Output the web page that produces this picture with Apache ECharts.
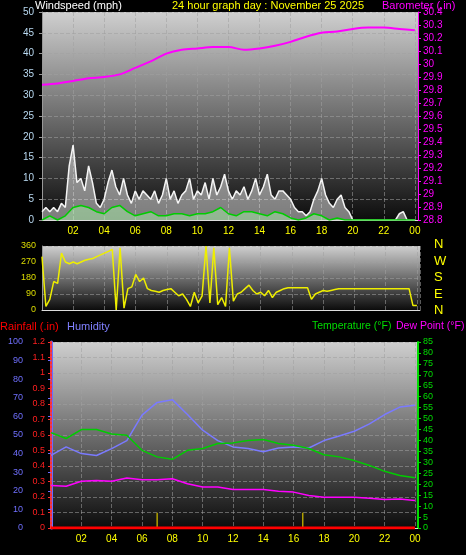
<!DOCTYPE html>
<html>
<head>
<meta charset="utf-8">
<script src="https://cdn.jsdelivr.net/npm/echarts@6/dist/echarts.min.js"></script>
<style>
  html, body { margin: 0; padding: 0; background: #000; }
  #main { width: 466px; height: 555px; }
</style>
</head>
<body>
<div id="main"></div>
<script>
// hourly readings, one value per step starting at hour 0
const gustStep = 0.25;
const windGust = [2,3,2,3, 2,4,3,13, 18,9,10,7, 13,9,4,3, 5,9,12,8, 6,10,6,4, 7,5,7,6, 5,7,4,6,
  10,5,7,4, 6,7,10,5, 7,6,9,5, 10,6,8,11, 7,5,7,6, 8,5,7,10, 6,8,11,6, 5,7,7,6, 5,3,2,2,
  1,2,5,7, 10,6,4,3, 5,6,3,2, 0,0,0,0, 0,0,0,0, 0,0,0,0, 1.5,2,0,0, 0];
const avgStep = 0.5;
const windAvg = [0,1,0,1, 3,3.5,3,2, 1.5,3,3.5,2, 1,1.5,2,1, 1,1.5,1.5,1, 1.5,1.5,2,3, 1.5,1,2,2,
  1.5,1,2,1.5, 0.5,0,0.5,1.5, 1,0,0.5,0, 0,0,0,0, 0,0,0,0, 0];
const dirStep = 0.25;
const windDir = [300,20,60,160, 150,320,270,260, 270,260,270,280, 285,290,300,310, 320,330,340,0,
  350,10,120,130, 200,160,180,120, 110,105,100,110, 115,120,100,80, 90,60,20,100, 40,80,360,40,
  350,30,70,20, 350,50,90,100, 120,140,110,90, 100,80,110,70, 100,110,120,125, 125,125,125,125,
  125,60,90,100, 110,105,110,115, 120,120,120,120, 120,120,120,120, 120,120,120,120, 120,120,120,120,
  120,120,120,25, 25];
const hourStep = 1;
const barometer = [29.84,29.85,29.87,29.89,29.90,29.92,29.97,30.02,30.08,30.11,30.12,30.13,30.13,
  30.11,30.12,30.14,30.17,30.21,30.24,30.25,30.27,30.28,30.28,30.27,30.26];
const humidity = [39,43.6,40,39,42.7,47,60.7,67.5,69,61,52.6,47,43.6,42.7,41,43,43.6,43,47,49.5,
  52,56,61,65,66];
const temperature = [43.6,40.9,45,45,43,42.4,35.5,32.5,31.4,35.5,36.3,38.6,38.9,40,40.4,38.6,37.8,
  36.3,33.5,32.5,30.8,28.6,25.9,24,23];
const dewPoint = [19.4,19.1,21.4,21.7,21.4,22.8,22,22,22.5,20.2,18.7,18.7,17.6,17.6,17.6,16.8,16.4,
  14.9,14.1,14.1,14.1,13.6,13,13.3,12.6];
const rainfall = [0,0,0,0,0,0,0,0,0,0,0,0,0,0,0,0,0,0,0,0,0,0,0,0,0];
const rainMarks = [[7, 7], [16.6, 7]];
const compass = ['N', 'W', 'S', 'E', 'N'];

const pairs = (arr, step) => arr.map((v, i) => [i * step, v]);
const hourLabel = v => (v === 0 ? '' : String(Math.round(v) % 24).padStart(2, '0'));
const bg = {
    type: 'linear', x: 0, y: 0, x2: 0, y2: 1,
    colorStops: [{ offset: 0, color: '#cfcfcf' }, { offset: 1, color: '#0c0c0c' }]
};
const split = { show: true, lineStyle: { color: 'rgba(160,160,160,0.55)', type: 'dashed', width: 1 } };
const font = 'Liberation Sans';
const head = (text, left, top, color, size) => ({
    text, left, top, padding: 0,
    textStyle: { color, fontSize: size || 11, fontWeight: 'normal', fontFamily: font }
});

const xAxisBase = (gi, showLabel) => ({
    type: 'value', gridIndex: gi, min: 0, max: 24.2, interval: 2,
    axisLine: { lineStyle: { color: '#ddd' } },
    axisTick: { show: false },
    axisLabel: { show: showLabel, color: '#ffff00', fontSize: 10, fontFamily: font, formatter: hourLabel, margin: 6 },
    splitLine: split
});

const chart = echarts.init(document.getElementById('main'));
chart.setOption({
    backgroundColor: '#000',
    animation: false,
    title: [
        head('Windspeed (mph)', 35, 0, '#fff'),
        head('24 hour graph day : November 25 2025', 172, 0, '#ffff00'),
        head('Barometer (.in)', 382, 0, '#ff00ff'),
        head('Rainfall (.in)', 0, 321, '#ff0000'),
        head('Humidity', 67, 321, '#8080ff'),
        head('Temperature (°F)', 312, 321, '#00dd00', 10.5),
        head('Dew Point (°F)', 396, 321, '#ff00ff', 10.5)
    ],
    graphic: compass.map((c, i) => ({
        type: 'text', left: 434, top: 238 + i * 16.5,
        style: { text: c, fill: '#ffff00', fontSize: 13, fontFamily: font }
    })),
    grid: [
        { left: 42, top: 12, width: 376, height: 208, show: true, backgroundColor: bg, borderWidth: 0 },
        { left: 42, top: 246, width: 378, height: 64, show: true, backgroundColor: bg, borderWidth: 0 },
        { left: 51, top: 342, width: 367, height: 186, show: true, backgroundColor: bg, borderWidth: 0 }
    ],
    xAxis: [xAxisBase(0, true), xAxisBase(1, false), xAxisBase(2, true)],
    yAxis: [
        { type: 'value', gridIndex: 0, position: 'left', min: 0, max: 50, interval: 5,
          axisLine: { show: true, lineStyle: { color: '#999' } }, axisTick: { show: true, length: 3 },
          axisLabel: { color: '#b8d8f0', fontSize: 10, fontFamily: font, margin: 8 }, splitLine: split },
        { type: 'value', gridIndex: 0, position: 'right', min: 28.8, max: 30.4, interval: 0.1,
          axisLine: { show: true, lineStyle: { color: '#ff00ff' } }, axisTick: { show: true, length: 3 },
          axisLabel: { color: '#ff00ff', fontSize: 10, fontFamily: font, margin: 5, formatter: v => String(+v.toFixed(1)) },
          splitLine: { show: false } },
        { type: 'value', gridIndex: 1, position: 'left', min: 0, max: 360, interval: 90,
          axisLine: { show: true, lineStyle: { color: '#999' } }, axisTick: { show: false },
          axisLabel: { color: '#dddd00', fontSize: 9, fontFamily: font, margin: 6 }, splitLine: split },
        { type: 'value', gridIndex: 2, position: 'left', min: 0, max: 100, interval: 10, offset: 22,
          axisLine: { show: true, lineStyle: { color: '#6a6aff', width: 3 } }, axisTick: { show: true, length: 3, lineStyle: { color: '#6a6aff' } },
          axisLabel: { color: '#7070ff', fontSize: 9, fontFamily: font, margin: 6 }, splitLine: { show: false } },
        { type: 'value', gridIndex: 2, position: 'left', min: 0, max: 1.2, interval: 0.1,
          axisLine: { show: true, lineStyle: { color: '#ff3030', type: 'dotted', width: 2 } }, axisTick: { show: true, length: 3, lineStyle: { color: '#ff3030' } },
          axisLabel: { color: '#ff2020', fontSize: 9, fontFamily: font, margin: 6, formatter: v => String(+v.toFixed(1)) },
          splitLine: split },
        { type: 'value', gridIndex: 2, position: 'right', min: 0, max: 85, interval: 5,
          axisLine: { show: true, lineStyle: { color: '#00dd00', width: 2 } }, axisTick: { show: true, length: 3, lineStyle: { color: '#00dd00' } },
          axisLabel: { color: '#00dd00', fontSize: 9, fontFamily: font, margin: 5 }, splitLine: { show: false } }
    ],
    series: [
        { name: 'Gust', type: 'line', xAxisIndex: 0, yAxisIndex: 0, data: pairs(windGust, gustStep),
          symbol: 'none', lineStyle: { color: '#f4f4f4', width: 1.5 }, areaStyle: { color: 'rgba(240,240,240,0.7)' } },
        { name: 'Wind', type: 'line', xAxisIndex: 0, yAxisIndex: 0, data: pairs(windAvg, avgStep),
          symbol: 'none', lineStyle: { color: '#00cc00', width: 1.5 }, areaStyle: { color: 'rgba(170,240,170,0.7)' } },
        { name: 'Barometer', type: 'line', xAxisIndex: 0, yAxisIndex: 1, data: pairs(barometer, hourStep),
          symbol: 'none', smooth: 0.3, lineStyle: { color: '#ff00ff', width: 2 } },
        { name: 'Direction', type: 'line', xAxisIndex: 1, yAxisIndex: 2, data: pairs(windDir, dirStep),
          symbol: 'none', lineStyle: { color: '#eeee00', width: 1.5 } },
        { name: 'Humidity', type: 'line', xAxisIndex: 2, yAxisIndex: 3, data: pairs(humidity, hourStep),
          symbol: 'none', lineStyle: { color: '#7a7aff', width: 1.5 } },
        { name: 'Rain', type: 'line', xAxisIndex: 2, yAxisIndex: 4, data: pairs(rainfall, hourStep),
          symbol: 'none', lineStyle: { color: '#ff0000', width: 3 } },
        { name: 'Temperature', type: 'line', xAxisIndex: 2, yAxisIndex: 5, data: pairs(temperature, hourStep),
          symbol: 'none', lineStyle: { color: '#00cc00', width: 1.5 } },
        { name: 'DewPoint', type: 'line', xAxisIndex: 2, yAxisIndex: 5, data: pairs(dewPoint, hourStep),
          symbol: 'none', lineStyle: { color: '#ff00ff', width: 1.5 } },
        { name: 'RainMark', type: 'bar', xAxisIndex: 2, yAxisIndex: 5, data: rainMarks,
          barWidth: 1.5, itemStyle: { color: '#b0a000' } }
    ]
});
</script>
</body>
</html>
